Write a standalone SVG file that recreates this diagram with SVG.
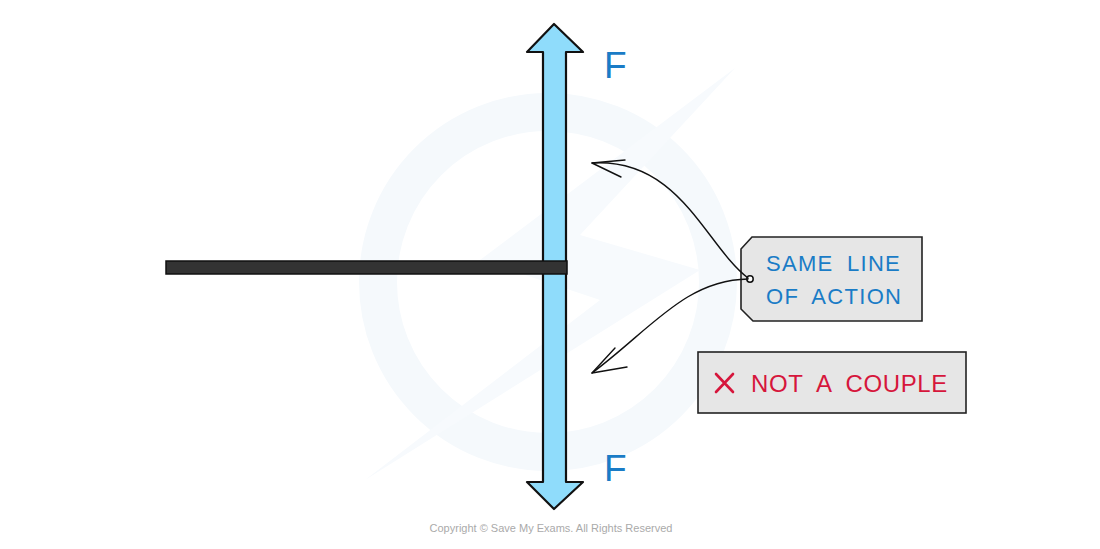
<svg xmlns="http://www.w3.org/2000/svg" width="1100" height="549" viewBox="0 0 1100 549">
<style>
.lbl{font-family:"Liberation Sans",Arial,sans-serif;fill:#1a7cc6}
.red{font-family:"Liberation Sans",Arial,sans-serif;fill:#d6163c}
.conn{fill:none;stroke:#111;stroke-width:1.4;stroke-linecap:round}
.wm{fill:none;stroke:#f5f9fc;stroke-width:38}
</style>
<rect width="1100" height="549" fill="#fff"/>
<g id="watermark">
<circle class="wm" cx="548" cy="282" r="170"/>
<polygon points="735,68 480,260 600,300 365,480 700,270 580,235" fill="#f7fafd"/>
</g>
<g id="force-arrow">
<path d="M543,482 L543,52 L527,52 L554,24 L583,52 L566,52 L566,482 L583,482 L554,509 L527,482 Z" fill="#8fdcfb" stroke="#111" stroke-width="2.2" stroke-linejoin="round"/>
</g>
<g id="bar">
<rect x="166" y="261" width="401" height="13" fill="#333" stroke="#111" stroke-width="1.5"/>
</g>
<g id="label-F-top"><text class="lbl" x="604" y="78" font-size="37">F</text></g>
<g id="label-F-bottom"><text class="lbl" x="604" y="481" font-size="37">F</text></g>
<g id="tag">
<path d="M752,237 L922,237 L922,321 L753,321 L741,309 L741,249 Z" fill="#e6e6e6" stroke="#222" stroke-width="1.6"/>
<circle cx="750" cy="279" r="3.2" fill="#fff" stroke="#111" stroke-width="1.5"/>
<text class="lbl" x="766" y="271" font-size="22" letter-spacing="1.3">SAME <tspan dx="6">LINE</tspan></text>
<text class="lbl" x="766" y="304" font-size="22" letter-spacing="1.3">OF <tspan dx="6">ACTION</tspan></text>
</g>
<g id="not-couple">
<rect x="698" y="352" width="268" height="61" fill="#e6e6e6" stroke="#222" stroke-width="1.6"/>
<path d="M716,374 L733,392 M733,374 L716,392" stroke="#d6163c" stroke-width="2.6" stroke-linecap="round"/>
<text class="red" x="751" y="392" font-size="24" letter-spacing="0.6">NOT <tspan dx="7">A</tspan><tspan dx="7"> COUPLE</tspan></text>
</g>
<g id="connectors">
<path class="conn" d="M748,278 C705,245 680,158 592,163"/>
<path class="conn" d="M592,163 L625,160 M592,163 L621,177"/>
<path class="conn" d="M748,279 C685,280 650,330 592,373"/>
<path class="conn" d="M592,373 L615,348 M592,373 L627,367"/>
</g>
<g id="copyright">
<text x="551" y="532" font-family="Liberation Sans,Arial,sans-serif" font-size="11" fill="#aaa" text-anchor="middle">Copyright © Save My Exams. All Rights Reserved</text>
</g>
</svg>
